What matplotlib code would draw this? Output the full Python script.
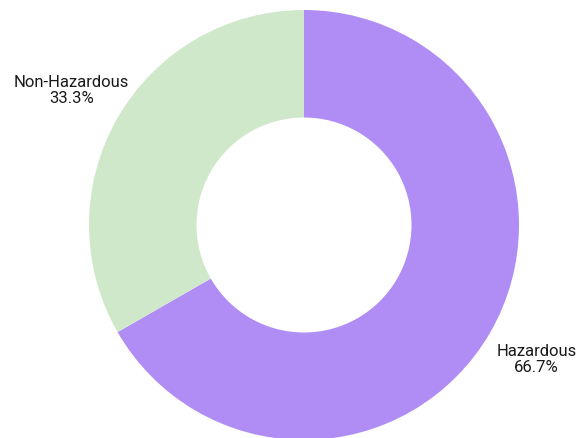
import numpy as np
import matplotlib
matplotlib.use("Agg")
import matplotlib.pyplot as plt

categories = ["Hazardous", "Non-Hazardous"]
shares = [66.7, 33.3]
colors = ["#AF8DF5", "#CFE8C9"]

plt.rcParams['font.family'] = ['Roboto', 'DejaVu Sans']

fig = plt.figure(figsize=(5.77, 4.38), dpi=100)
ax = fig.add_axes([0, 0, 1, 1])

center = (304, 213)
radius = 215
wedges, _ = ax.pie(shares, colors=colors, startangle=90, counterclock=False,
                   center=center, radius=radius, frame=True,
                   wedgeprops=dict(width=radius * 0.5, linewidth=0))
ax.set_xlim(0, 577)
ax.set_ylim(0, 438)
ax.set_aspect('equal')
ax.axis('off')

# labels sit outside each wedge at its mid angle
for w, name, val in zip(wedges, categories, shares):
    mid = np.deg2rad((w.theta1 + w.theta2) / 2)
    x = center[0] + 1.25 * radius * np.cos(mid)
    y = center[1] + 1.25 * radius * np.sin(mid)
    ax.text(x, y, f"{name}\n{val:.1f}%", ha='center', va='center',
            fontsize=12, color='#1a1a1a', linespacing=1.1)

fig.savefig("out.png", dpi=100)
